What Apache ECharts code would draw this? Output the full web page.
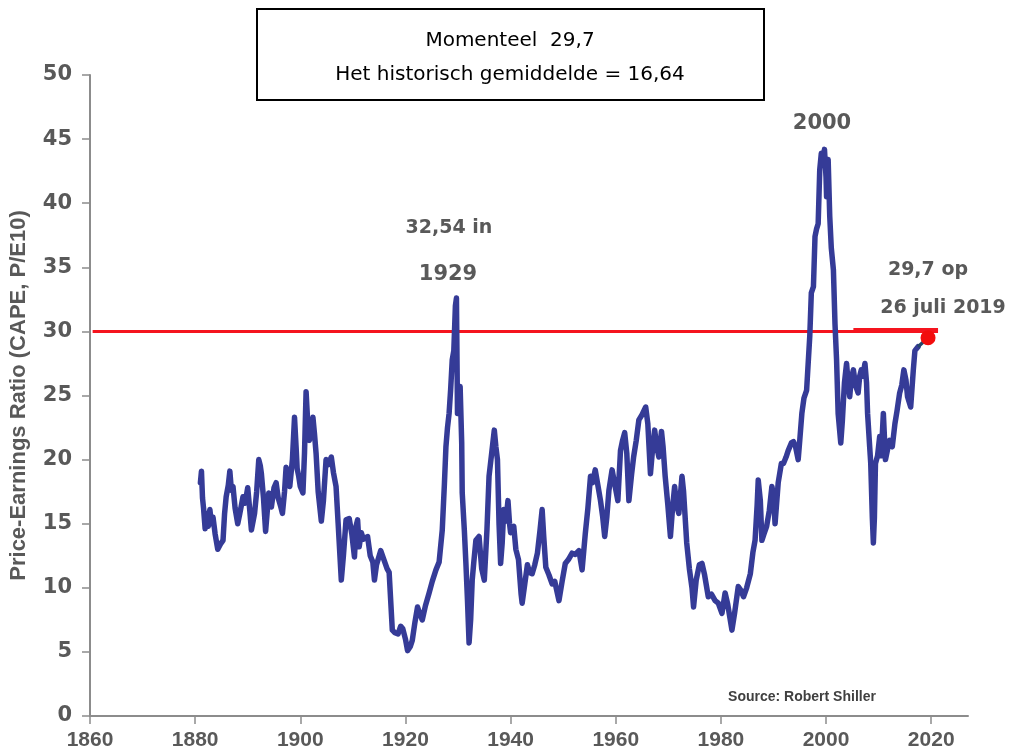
<!DOCTYPE html>
<html>
<head>
<meta charset="utf-8">
<title>CAPE</title>
<script src="https://cdn.jsdelivr.net/npm/echarts@6/dist/echarts.min.js"></script>
<style>
  html, body { margin: 0; padding: 0; background: #fff; }
  #chart { width: 1022px; height: 755px; }
</style>
</head>
<body>
<div id="chart"></div>
<script>
// jaartallen en CAPE (Shiller P/E10)
var years = [
  1881.0, 1881.2, 1881.4, 1881.6, 1881.9, 1882.2, 1882.5, 1882.8, 1883.1, 1883.4,
  1883.8, 1884.3, 1884.8, 1885.3, 1885.6, 1885.9, 1886.3, 1886.6, 1886.9, 1887.2,
  1887.6, 1888.1, 1888.5, 1889.1, 1889.5, 1890.0, 1890.4, 1890.7, 1891.3, 1891.7,
  1892.1, 1892.4, 1892.6, 1893.0, 1893.4, 1894.0, 1894.5, 1895.0, 1895.4, 1895.8,
  1896.3, 1896.6, 1897.0, 1897.3, 1897.7, 1898.0, 1898.5, 1898.9, 1899.2, 1899.4,
  1899.7, 1900.0, 1900.5, 1900.8, 1901.1, 1901.4, 1901.7, 1902.0, 1902.4, 1902.7,
  1903.0, 1903.4, 1904.0, 1904.4, 1904.9, 1905.3, 1905.9, 1906.3, 1906.8, 1907.2,
  1907.8, 1908.2, 1908.7, 1909.3, 1909.8, 1910.3, 1910.6, 1910.9, 1911.2, 1911.6,
  1912.0, 1912.8, 1913.3, 1913.8, 1914.1, 1914.5, 1915.3, 1915.9, 1916.5, 1916.9,
  1917.5, 1918.0, 1918.6, 1919.1, 1919.5, 1920.0, 1920.4, 1920.9, 1921.3, 1921.8,
  1922.3, 1922.7, 1923.2, 1923.8, 1924.5, 1925.1, 1925.8, 1926.4, 1927.0, 1927.4,
  1927.7, 1928.0, 1928.3, 1928.6, 1928.9, 1929.2, 1929.5, 1929.7, 1929.9, 1930.2,
  1930.4, 1930.7, 1930.8, 1931.2, 1931.5, 1931.8, 1932.1, 1932.4, 1932.7, 1933.0,
  1933.4, 1934.0, 1934.5, 1935.0, 1935.5, 1935.9, 1936.4, 1936.9, 1937.2, 1937.5,
  1937.8, 1938.1, 1938.4, 1938.7, 1939.1, 1939.5, 1939.8, 1940.0, 1940.6, 1941.0,
  1941.5, 1942.0, 1942.2, 1942.7, 1943.2, 1943.6, 1944.1, 1944.6, 1945.1, 1945.6,
  1946.0, 1946.3, 1946.7, 1947.3, 1947.9, 1948.4, 1949.2, 1949.8, 1950.4, 1951.0,
  1951.7, 1952.3, 1953.0, 1953.6, 1954.2, 1954.7, 1955.2, 1955.6, 1956.1, 1956.6,
  1957.1, 1957.5, 1957.9, 1958.3, 1958.7, 1959.3, 1959.8, 1960.4, 1960.9, 1961.3,
  1961.7, 1962.1, 1962.5, 1963.0, 1963.4, 1963.9, 1964.4, 1965.0, 1965.7, 1966.1,
  1966.6, 1967.0, 1967.4, 1967.8, 1968.2, 1968.7, 1969.0, 1969.4, 1969.9, 1970.4,
  1970.8, 1971.2, 1971.6, 1972.0, 1972.6, 1972.9, 1973.5, 1974.0, 1974.5, 1974.8,
  1975.3, 1975.9, 1976.4, 1976.9, 1977.6, 1978.2, 1978.9, 1979.5, 1980.2, 1980.8,
  1981.3, 1982.1, 1982.6, 1983.3, 1983.8, 1984.3, 1984.9, 1985.6, 1986.1, 1986.5,
  1986.9, 1987.1, 1987.5, 1987.8, 1988.2, 1988.7, 1989.2, 1989.7, 1990.0, 1990.3,
  1990.9, 1991.5, 1991.9, 1992.4, 1992.8, 1993.4, 1993.8, 1994.2, 1994.7, 1995.0,
  1995.4, 1995.8, 1996.3, 1996.6, 1996.9, 1997.2, 1997.6, 1997.9, 1998.2, 1998.5,
  1998.8, 1999.1, 1999.4, 1999.7, 2000.0, 2000.1, 2000.4, 2000.7, 2001.0, 2001.4,
  2001.7, 2002.0, 2002.3, 2002.8, 2003.1, 2003.5, 2003.9, 2004.2, 2004.5, 2004.8,
  2005.2, 2005.6, 2006.1, 2006.4, 2006.7, 2007.0, 2007.4, 2007.7, 2007.9, 2008.3,
  2008.5, 2008.8, 2009.0, 2009.2, 2009.4, 2009.8, 2010.2, 2010.5, 2010.9, 2011.3,
  2011.7, 2012.1, 2012.6, 2013.1, 2013.5, 2014.0, 2014.4, 2014.8, 2015.2, 2015.5,
  2016.1, 2016.6, 2016.9, 2017.5
];
var cape = [
  18.2, 19.1, 17.0, 16.2, 14.6, 15.8, 14.8, 16.1, 15.0, 15.5,
  14.2, 13.0, 13.4, 13.7, 15.8, 17.1, 18.0, 19.1, 17.6, 17.9,
  16.2, 15.0, 15.8, 17.1, 16.6, 17.8, 16.0, 14.5, 15.8, 17.5,
  20.0, 19.5, 18.9, 17.0, 14.4, 17.4, 16.3, 17.8, 18.2, 17.0,
  16.3, 15.8, 17.5, 19.4, 18.5, 17.9, 20.0, 23.3, 21.0, 19.3,
  18.7, 17.9, 17.4, 20.5, 25.3, 23.0, 21.5, 21.8, 23.3, 22.0,
  20.5, 17.5, 15.2, 16.8, 20.0, 19.6, 20.2, 19.0, 17.9, 15.0,
  10.6, 12.5, 15.3, 15.4, 14.2, 12.4, 14.8, 15.3, 13.2, 14.3,
  13.8, 14.0, 12.5, 12.0, 10.6, 11.8, 12.9, 12.2, 11.5, 11.2,
  6.7, 6.5, 6.4, 7.0, 6.8, 6.0, 5.1, 5.4, 5.9, 7.3,
  8.5, 8.0, 7.5, 8.6, 9.6, 10.5, 11.4, 12.0, 14.5, 18.0,
  21.0, 22.5, 23.6, 25.5, 27.8, 28.5, 32.0, 32.6, 23.6, 24.2,
  25.7, 21.3, 17.4, 14.5, 11.9, 9.0, 5.7, 7.5, 10.6, 12.0,
  13.7, 14.0, 11.5, 10.6, 14.5, 18.7, 20.5, 22.3, 21.0, 20.0,
  15.0, 11.9, 13.5, 16.1, 15.2, 16.8, 15.0, 14.3, 14.8, 13.0,
  12.2, 9.5, 8.8, 10.3, 11.8, 11.2, 11.1, 11.8, 12.7, 14.5,
  16.1, 14.0, 11.6, 11.0, 10.3, 10.5, 9.0, 10.5, 11.9, 12.2,
  12.7, 12.6, 12.9, 11.4, 14.2, 16.2, 18.7, 18.2, 19.2, 18.0,
  16.8, 15.6, 14.0, 15.5, 17.6, 19.2, 18.1, 16.8, 20.7, 21.5,
  22.1, 20.5, 16.8, 18.8, 20.2, 21.5, 23.1, 23.5, 24.1, 22.8,
  18.9, 20.8, 22.3, 21.0, 20.2, 22.2, 21.0, 18.7, 16.5, 14.0,
  16.2, 17.9, 16.4, 15.8, 18.7, 17.5, 13.5, 11.5, 10.0, 8.5,
  10.6, 11.8, 11.9, 11.0, 9.3, 9.5, 9.0, 8.8, 8.0, 9.6,
  8.7, 6.7, 8.0, 10.1, 9.8, 9.3, 10.0, 11.1, 12.8, 13.7,
  16.5, 18.4, 16.8, 13.7, 14.2, 14.8, 16.0, 17.9, 17.2, 15.0,
  18.2, 19.7, 19.7, 20.2, 20.7, 21.3, 21.4, 21.0, 20.0, 21.5,
  23.6, 24.8, 25.4, 27.5, 29.6, 33.0, 33.5, 37.4, 38.0, 38.4,
  42.6, 43.9, 43.2, 44.2, 42.0, 40.5, 43.4, 39.0, 36.5, 34.8,
  30.6, 27.8, 23.6, 21.3, 23.0, 26.0, 27.5, 26.0, 24.9, 26.3,
  27.0, 25.8, 25.2, 26.5, 27.0, 26.5, 27.5, 26.0, 23.6, 21.0,
  19.7, 15.5, 13.5, 15.5, 19.7, 20.3, 21.8, 20.3, 23.6, 20.0,
  20.8, 21.5, 21.0, 22.8, 23.8, 25.2, 25.8, 27.0, 26.2, 24.9,
  24.1, 27.0, 28.5, 28.8
];
// laatste meting (juli 2019) en het niveau van 30
var nowYear = 2019.4;
var nowValue = 29.5;
var refLevel = 30;
var refLineYears = [1860.5, 2021.3];
var refHighlightYears = [2005.2, 2021.3];
var xTicks = [1860, 1880, 1900, 1920, 1940, 1960, 1980, 2000, 2020];

var capeData = [];
for (var i = 0; i < years.length; i++) {
  capeData.push([years[i], cape[i]]);
}
var lastIdx = years.length - 1;

var chart = echarts.init(document.getElementById('chart'));
var grey = '#595959';

var option = {
  animation: false,
  grid: { left: 89, right: 54, top: 75, bottom: 39 },
  xAxis: {
    type: 'value',
    min: 1860,
    max: 2027,
    interval: 20,
    splitLine: { show: false },
    axisLine: { show: true, lineStyle: { color: '#8c8c8c', width: 2 } },
    axisTick: { show: true, length: 8, lineStyle: { color: '#8c8c8c', width: 1.5 }, customValues: xTicks },
    axisLabel: {
      customValues: xTicks,
      formatter: function (v) { return String(v); },
      margin: 14,
      color: grey,
      fontFamily: 'Liberation Sans',
      fontWeight: 'bold',
      fontSize: 21
    }
  },
  yAxis: {
    type: 'value',
    min: 0,
    max: 50,
    interval: 5,
    name: 'Price-Earnings Ratio (CAPE, P/E10)',
    nameLocation: 'middle',
    nameGap: 60,
    nameTextStyle: {
      color: grey,
      fontFamily: 'Liberation Sans',
      fontWeight: 'bold',
      fontSize: 22
    },
    splitLine: { show: false },
    axisLine: { show: true, lineStyle: { color: '#8c8c8c', width: 2 } },
    axisTick: { show: true, length: 8, lineStyle: { color: '#8c8c8c', width: 1.5 } },
    axisLabel: {
      margin: 18,
      color: grey,
      fontFamily: 'DejaVu Sans',
      fontWeight: 'bold',
      fontSize: 21
    }
  },
  series: [
    {
      name: 'niveau 30',
      type: 'line',
      clip: false,
      showSymbol: false,
      silent: true,
      data: [[refLineYears[0], refLevel], [refLineYears[1], refLevel]],
      lineStyle: { color: '#f5141e', width: 3 },
      z: 1
    },
    {
      name: 'niveau 30 accent',
      type: 'line',
      clip: false,
      showSymbol: false,
      silent: true,
      data: [[refHighlightYears[0], refLevel + 0.12], [refHighlightYears[1], refLevel + 0.12]],
      lineStyle: { color: '#f5141e', width: 3.5 },
      z: 1
    },
    {
      name: 'CAPE',
      type: 'line',
      showSymbol: false,
      data: capeData,
      lineStyle: { color: '#353b97', width: 5.5, join: 'round', cap: 'round' },
      z: 3
    },
    {
      name: 'verbinding',
      type: 'line',
      showSymbol: false,
      data: [[years[lastIdx], cape[lastIdx]], [nowYear, nowValue]],
      lineStyle: { color: '#25476a', width: 3.5 },
      z: 3
    },
    {
      name: 'nu',
      type: 'scatter',
      symbolSize: 15,
      clip: false,
      data: [[nowYear, nowValue]],
      itemStyle: { color: '#f20d0d', opacity: 1 },
      z: 4
    }
  ],
  graphic: [
    {
      type: 'rect',
      shape: { x: 257, y: 9, width: 507, height: 91 },
      style: { fill: '#fff', stroke: '#000', lineWidth: 2 }
    },
    {
      type: 'text', x: 510, y: 41,
      style: { text: 'Momenteel  29,7', fill: '#000', font: '20px "DejaVu Sans"', align: 'center', verticalAlign: 'middle' }
    },
    {
      type: 'text', x: 510, y: 75,
      style: { text: 'Het historisch gemiddelde = 16,64', fill: '#000', font: '20px "DejaVu Sans"', align: 'center', verticalAlign: 'middle' }
    },
    {
      type: 'text', x: 449, y: 228,
      style: { text: '32,54 in', fill: grey, font: 'bold 19px "DejaVu Sans"', align: 'center', verticalAlign: 'middle' }
    },
    {
      type: 'text', x: 448, y: 275,
      style: { text: '1929', fill: grey, font: 'bold 21px "DejaVu Sans"', align: 'center', verticalAlign: 'middle' }
    },
    {
      type: 'text', x: 822, y: 124,
      style: { text: '2000', fill: grey, font: 'bold 21px "DejaVu Sans"', align: 'center', verticalAlign: 'middle' }
    },
    {
      type: 'text', x: 928, y: 270,
      style: { text: '29,7 op', fill: grey, font: 'bold 19px "DejaVu Sans"', align: 'center', verticalAlign: 'middle' }
    },
    {
      type: 'text', x: 943, y: 308,
      style: { text: '26 juli 2019', fill: grey, font: 'bold 19px "DejaVu Sans"', align: 'center', verticalAlign: 'middle' }
    },
    {
      type: 'text', x: 802, y: 697,
      style: { text: 'Source: Robert Shiller', fill: '#404040', font: 'bold 14px "Liberation Sans Narrow", "Liberation Sans"', align: 'center', verticalAlign: 'middle' }
    }
  ]
};

chart.setOption(option);
</script>
</body>
</html>
